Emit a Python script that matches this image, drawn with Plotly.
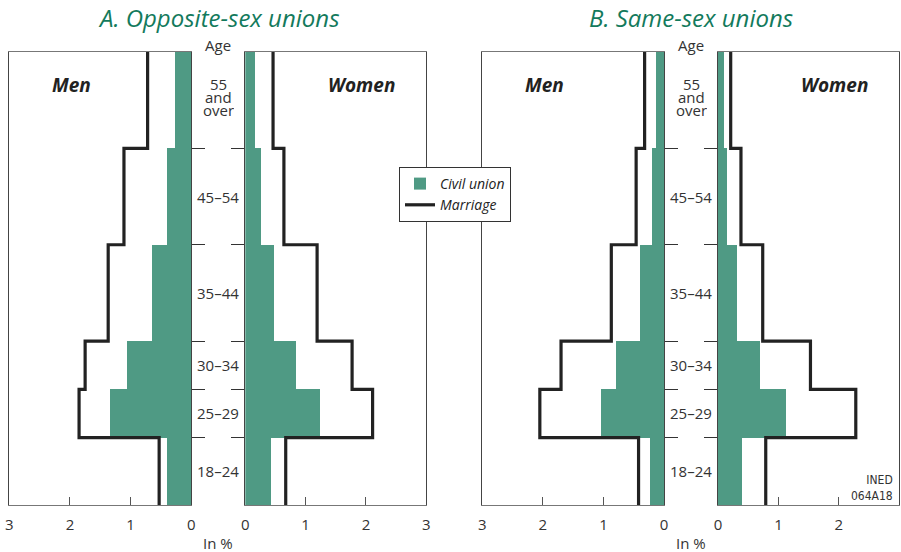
import plotly.graph_objects as go

# ---- data ----
age_edges = [18, 25, 30, 35, 45, 55, 65]
age_labels = ["18–24", "25–29", "30–34", "35–44", "45–54", "55<br>and<br>over"]

a_men_civil = [0.40, 1.33, 1.05, 0.65, 0.40, 0.26]
a_men_marriage = [0.53, 1.85, 1.75, 1.37, 1.11, 0.72]
a_women_civil = [0.43, 1.24, 0.85, 0.48, 0.27, 0.17]
a_women_marriage = [0.67, 2.11, 1.77, 1.19, 0.64, 0.46]

b_men_civil = [0.23, 1.03, 0.79, 0.39, 0.19, 0.12]
b_men_marriage = [0.42, 2.05, 1.70, 0.87, 0.46, 0.32]
b_women_civil = [0.40, 1.12, 0.70, 0.31, 0.15, 0.10]
b_women_marriage = [0.79, 2.28, 1.53, 0.74, 0.38, 0.21]

x_ticks = [0, 1, 2, 3]

GREEN = "#4f9a84"
LINE = "#222222"
TEXT = "#333333"
TITLE = "#137a5c"
FONT = "Open Sans, Noto Sans, sans-serif"

W, H = 901, 552

mids = [(age_edges[i] + age_edges[i + 1]) / 2 for i in range(len(age_edges) - 1)]
widths = [age_edges[i + 1] - age_edges[i] for i in range(len(age_edges) - 1)]


def step(values):
    xs, ys = [], []
    for i, v in enumerate(values):
        xs += [v, v]
        ys += [age_edges[i], age_edges[i + 1]]
    return xs, ys


fig = go.Figure()

panels = [
    ("x", "y", a_men_civil, a_men_marriage),
    ("x2", "y2", a_women_civil, a_women_marriage),
    ("x3", "y3", b_men_civil, b_men_marriage),
    ("x4", "y4", b_women_civil, b_women_marriage),
]
for k, (xa, ya, civ, mar) in enumerate(panels):
    fig.add_trace(go.Bar(
        orientation="h", x=civ, y=mids, width=widths, base=0,
        xaxis=xa, yaxis=ya, marker=dict(color=GREEN, line=dict(width=0)),
        name="<i>Civil union</i>", showlegend=(k == 0), hoverinfo="skip"))
for k, (xa, ya, civ, mar) in enumerate(panels):
    xs, ys = step(mar)
    fig.add_trace(go.Scatter(
        x=xs, y=ys, mode="lines", xaxis=xa, yaxis=ya,
        line=dict(color=LINE, width=3.2),
        name="<i>Marriage</i>", showlegend=(k == 0), hoverinfo="skip"))

# panel pixel extents
xdom_px = [(9.3, 191.3), (245.3, 426.3), (482.3, 664.0), (718.0, 899.3)]
ydom = [1 - 505 / H, 1 - 52 / H]

for i, (x0, x1) in enumerate(xdom_px):
    men = i % 2 == 0
    sfx = "" if i == 0 else str(i + 1)
    fig.layout["xaxis" + sfx] = dict(
        domain=[x0 / W, x1 / W], anchor="y" + sfx,
        range=[3, 0] if men else [0, 3],
        tickvals=x_ticks, ticktext=[str(t) for t in x_ticks],
        ticks="inside", ticklen=8, tickcolor="#555", tickwidth=1,
        showline=True, linecolor="#777", linewidth=1, mirror=True,
        showgrid=False, zeroline=False, fixedrange=True, automargin=False,
        tickfont=dict(family=FONT, size=15, color=TEXT),
        ticklabelstandoff=6,
    )
    fig.layout["yaxis" + sfx] = dict(
        domain=ydom, anchor="x" + sfx, range=[age_edges[0], age_edges[-1]],
        side="right" if men else "left",
        tickvals=age_edges[1:-1], showticklabels=False,
        ticks="outside", ticklen=13, tickcolor="#333", tickwidth=1,
        showline=True, linecolor="#444", linewidth=1, mirror=True,
        showgrid=False, zeroline=False, fixedrange=True, automargin=False,
    )

annotations = []
centers = [(191.3 + 245.3) / 2, (664.0 + 718.0) / 2]
titles = ["A. Opposite-sex unions", "B. Same-sex unions"]
for c, t in zip(centers, titles):
    annotations.append(dict(
        x=c / W, y=1 - 17 / H, xref="paper", yref="paper", text=f"<i>{t}</i>",
        xanchor="center", yanchor="middle",
        showarrow=False, font=dict(family=FONT, size=24, color=TITLE)))
    annotations.append(dict(
        x=c / W, y=1 - 45 / H, xref="paper", yref="paper", text="Age",
        xanchor="center", yanchor="middle",
        showarrow=False, font=dict(family=FONT, size=15, color=TEXT)))
    annotations.append(dict(
        x=c / W, y=1 - 543 / H, xref="paper", yref="paper", text="In %",
        xanchor="center", yanchor="middle",
        showarrow=False, font=dict(family=FONT, size=15, color=TEXT)))
    for m, lab in zip(mids, age_labels):
        parts = lab.split("<br>")
        n = len(parts)
        for j, p in enumerate(parts):
            ann = dict(
                x=c / W, y=m, xref="paper", yref="y", text=p,
                yshift=(n - 1) * 6.5 - j * 13 + (3 if n > 1 else 0),
                showarrow=False, font=dict(family=FONT, size=15, color=TEXT),
                xanchor="center", yanchor="middle", borderpad=0)
            if n > 1:
                ann["height"] = 12
                ann["valign"] = "middle"
            annotations.append(ann)

for i, (x0, x1) in enumerate(xdom_px):
    men = i % 2 == 0
    cx = x0 + (0.34 if men else 0.64) * (x1 - x0)
    annotations.append(dict(
        x=cx / W, y=1 - 85 / H, xref="paper", yref="paper",
        text="<b><i>Men</i></b>" if men else "<b><i>Women</i></b>",
        xanchor="center", yanchor="middle",
        showarrow=False, font=dict(family=FONT, size=19, color="#222")))

annotations.append(dict(
    x=895 / W, y=1 - 488 / H, xref="paper", yref="paper",
    text="INED<br>064A18", align="right", xanchor="right", yanchor="middle",
    showarrow=False,
    font=dict(family="DejaVu Sans Condensed, Liberation Sans Narrow, sans-serif",
              size=12, color=TEXT)))

fig.update_layout(
    width=W, height=H, autosize=False,
    margin=dict(l=0, r=0, t=0, b=0, pad=0, autoexpand=False),
    paper_bgcolor="white", plot_bgcolor="rgba(0,0,0,0)",
    showlegend=True,
    legend=dict(
        x=399 / W, y=1 - 167 / H, xanchor="left", yanchor="top",
        bgcolor="white", bordercolor="#333", borderwidth=1,
        font=dict(family=FONT, size=14, color="#222"),
        itemwidth=30, tracegroupgap=0,
    ),
    annotations=annotations,
    bargap=0,
)

fig.write_html("out.html", post_script="document.body.style.margin='0';",
               config={"displayModeBar": False})
